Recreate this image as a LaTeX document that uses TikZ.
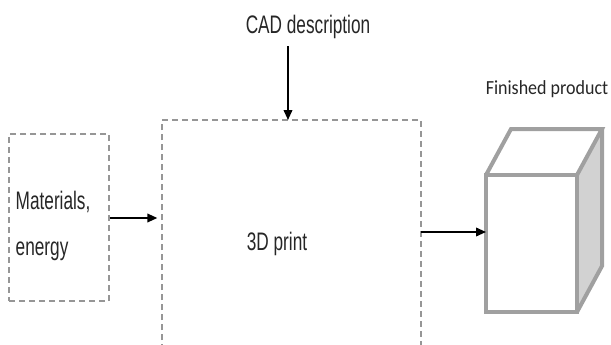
\documentclass[tikz,border=0pt]{standalone}
\usepackage{fontspec}
\setmainfont{Liberation Sans}[FakeStretch=0.68]
\newfontfamily\calfont{Carlito}[FakeStretch=0.9]
\usetikzlibrary{arrows.meta}
\definecolor{dashgray}{RGB}{150,150,150}
\definecolor{cubegray}{RGB}{160,160,160}
\definecolor{sidegray}{RGB}{210,210,210}
\tikzset{
  dbox/.style={draw=dashgray, line width=1.1pt, dash pattern=on 4.5pt off 3pt},
  flow/.style={line width=1.2pt, -{Triangle[length=7.5pt,width=6.5pt]}},
  lbl/.style={font=\fontsize{19}{22}\selectfont, text=black!85},
  cube/.style={draw=cubegray, line width=3pt, line join=miter}
}
\begin{document}
\begin{tikzpicture}[x=0.75pt,y=-0.75pt]
\useasboundingbox (0,0) rectangle (611,344);
% left box
\node[dbox, minimum width=100*0.75pt, minimum height=167*0.75pt, inner sep=0pt] (mat) at (59,217.5) {};
\node[lbl, align=left, anchor=west] (mattxt) at (11,226) {Materials,\\[12pt]energy};
% main box (open at bottom)
\coordinate (mtl) at (162,120);
\coordinate (mtr) at (421,120);
\coordinate (mtop) at (288,120);
\coordinate (min) at (162,218);
\coordinate (mout) at (421,232);
\draw[dbox] (162,350) -- (mtl) -- (mtr) -- (421,350);
\node[lbl] (print) at (277,244) {3D print};
% CAD
\node[lbl] (cad) at (308,27) {CAD description};
\draw[flow] (288,46) -- (mtop);
% arrows
\draw[flow] (mat.east |- min) -- ([xshift=-3.5pt]min);
% cube
\coordinate (f1) at (486,175);
\coordinate (f2) at (577,175);
\coordinate (f3) at (577,312);
\coordinate (f4) at (486,312);
\coordinate (b1) at (511,129);
\coordinate (b2) at (602,129);
\coordinate (b3) at (602,266);
\fill[sidegray] (f2) -- (b2) -- (b3) -- (f3) -- cycle;
\draw[cube, fill=white] (f1) rectangle (f3);
\draw[cube] (f1) -- (b1) -- (b2) -- (f2);
\draw[cube] (b2) -- (b3) -- (f3);
\node[font=\calfont\fontsize{15}{17}\selectfont, text=black!85] (fin) at (547,89) {Finished product};
\draw[flow] (mout) -- (f1 |- mout);
\end{tikzpicture}
\end{document}
